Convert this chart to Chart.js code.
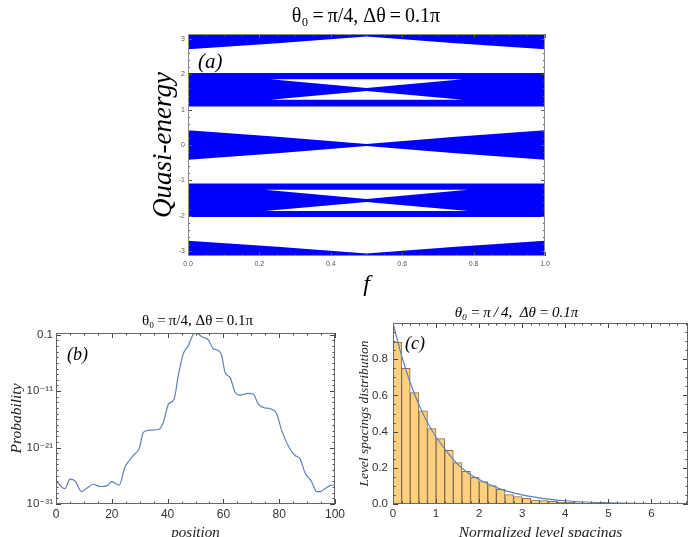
<!DOCTYPE html>
<html>
<head>
<meta charset="utf-8">
<script src="https://cdn.jsdelivr.net/npm/chart.js@4"></script>
<style>
html, body { margin: 0; padding: 0; background: #fff; width: 694px; height: 537px; overflow: hidden; }
.box { position: absolute; }
</style>
</head>
<body>
<div class="box" style="left:140px;top:0px"><canvas id="chartA" width="452" height="300"></canvas></div>
<div class="box" style="left:0px;top:300px"><canvas id="chartB" width="395" height="245"></canvas></div>
<div class="box" style="left:345px;top:300px"><canvas id="chartC" width="343" height="245"></canvas></div>
<script>
// ---- panel (a): quasi-energy bands vs f ----
var fEdge = [0, 0.25, 0.5, 0.75, 1];
var topBandLow = [2.71, 2.88, 3.07, 2.88, 2.71];
var midBandHigh = [0.42, 0.23, 0.03, 0.23, 0.42];
var midBandLow = [-0.42, -0.23, -0.03, -0.23, -0.42];
var botBandHigh = [-2.71, -2.88, -3.07, -2.88, -2.71];
var fFull = [0, 1];
var upperBand = [2.04, 1.09];   // high, low
var lowerBand = [-1.09, -2.04];
// white gaps inside the two side bands
var fGapUp = [0.23, 0.5, 0.77];
var gapUp1 = [[1.86, 1.86, 1.86], [1.86, 1.61, 1.86]];
var gapUp2 = [[1.28, 1.53, 1.28], [1.28, 1.28, 1.28]];
var fGapDn = [0.215, 0.5, 0.785];
var gapDn1 = [[-1.27, -1.27, -1.27], [-1.27, -1.53, -1.27]];
var gapDn2 = [[-1.87, -1.61, -1.87], [-1.87, -1.87, -1.87]];
var fTicks = [0, 0.2, 0.4, 0.6, 0.8, 1];
var fTickLabels = ['0.0', '0.2', '0.4', '0.6', '0.8', '1.0'];
var qTicks = [-3, -2, -1, 0, 1, 2, 3];
var qTickLabels = ['-3', '-2', '-1', '0', '1', '2', '3'];

// ---- panel (b): probability vs position ----
var position = [0, 3.2, 5.0, 6.8, 9.2, 11.0, 13.4, 15.8, 18.2, 20.0, 21.8, 22.7, 24.7, 27.7, 29.9,
  31.3, 33.7, 36.7, 38.5, 40.3, 42.3, 43.8, 45.6, 47.4, 49.2, 49.8, 52.8, 54.6, 56.4, 58.2,
  59.4, 60.6, 62.4, 64.2, 65.9, 68.9, 70.7, 72.5, 74.3, 77.3, 79.1, 80.9, 83.9, 85.7, 87.5,
  89.2, 91.6, 93.4, 94.6, 96.4, 98.2, 100];
var probExp = [-26.9, -28.3, -26.6, -26.9, -28.8, -28.2, -27.5, -27.9, -27.8, -27.05, -27.5, -27.6, -24.5, -22.4, -21.1,
  -18.3, -17.9, -17.8, -16.5, -13.3, -12.5, -8.3, -4.4, -2.95, -0.9, -0.7, -1.5, -1.9, -3.5, -3.8,
  -4.7, -7.7, -8.6, -11.2, -11.7, -11.4, -11.5, -13.3, -13.9, -14.2, -15.0, -18.0, -21.3, -22.4, -23.0,
  -25.4, -27.05, -28.8, -28.8, -28.3, -27.75, -27.6];
var posTicks = [0, 20, 40, 60, 80, 100];
var probTicks = [1e-1, 1e-11, 1e-21, 1e-31];
var probTickLabels = ['0.1', '10\u207B\u00B9\u00B9', '10\u207B\u00B2\u00B9', '10\u207B\u00B3\u00B9'];

// ---- panel (c): level spacing histogram ----
var binCenters = [0.1, 0.3, 0.5, 0.7, 0.9, 1.1, 1.3, 1.5, 1.7, 1.9, 2.1, 2.3, 2.5, 2.7, 2.9, 3.1,
  3.3, 3.5, 3.7, 3.9, 4.1, 4.3, 4.5, 4.7, 4.9, 5.1, 5.3, 5.5, 5.7, 5.9];
var binHeights = [0.893, 0.75, 0.615, 0.515, 0.417, 0.361, 0.296, 0.229, 0.18, 0.148, 0.124, 0.102, 0.081, 0.052, 0.041, 0.031,
  0.021, 0.019, 0.015, 0.011, 0.009, 0.007, 0.004, 0.004, 0.003, 0.002, 0.002, 0.001, 0.001, 0.001];
var curveS = [0, 0.2, 0.4, 0.6, 0.8, 1.0, 1.25, 1.5, 1.75, 2.0, 2.5, 3.0, 3.5, 4.0, 4.5, 5.0, 5.5, 6.0, 6.85];
var curveP = [1.0, 0.82, 0.67, 0.55, 0.45, 0.37, 0.29, 0.22, 0.17, 0.135, 0.082, 0.05, 0.03, 0.018, 0.011, 0.007, 0.004, 0.0025, 0.001];
var sTicks = [0, 1, 2, 3, 4, 5, 6];
var pdfTicks = [0, 0.2, 0.4, 0.6, 0.8];
var pdfTickLabels = ['0.0', '0.2', '0.4', '0.6', '0.8'];

var serif = "'Liberation Serif', 'DejaVu Serif', serif";
var sans = "'Liberation Sans', 'DejaVu Sans', sans-serif";
var thin = '\u2009', en = '\u2002';
Chart.defaults.font.family = sans;
Chart.defaults.color = '#333';
Chart.defaults.animation = false;
Chart.defaults.plugins.legend.display = false;
Chart.defaults.plugins.tooltip.enabled = false;

function pts(xs, ys) {
  return xs.map(function (x, i) { return {x: x, y: ys[i]}; });
}
function steps(a, b, s) {
  var out = [];
  for (var v = a; v <= b + 1e-9; v += s) out.push(+v.toFixed(6));
  return out;
}
function region(xs, hi, lo, color, order) {
  var base = {borderColor: 'rgba(0,0,0,0)', borderWidth: 0, pointRadius: 0, order: order};
  return [
    Object.assign({data: pts(xs, hi), fill: '+1', backgroundColor: color}, base),
    Object.assign({data: pts(xs, lo), fill: false}, base)
  ];
}
function fixedTicks(values) {
  return function (scale) { scale.ticks = values.map(function (v) { return {value: v}; }); };
}
function fixBox(size) {
  return function (scale) {
    if (scale.isHorizontal()) scale.height = size; else scale.width = size;
    scale.paddingLeft = scale.paddingRight = scale.paddingTop = scale.paddingBottom = 0;
  };
}
// empty right-hand axis, only used to reserve room so the title centres like the original
function spacer(size) {
  return {type: 'linear', position: 'right', display: true, grid: {display: false, drawTicks: false},
    border: {display: false}, ticks: {display: false}, afterFit: fixBox(size)};
}
var noGrid = {display: false, drawTicks: false};

// frame with inward ticks on all four sides, plus panel letter
var frameTicks = {
  id: 'frameTicks',
  afterDatasetsDraw: function (chart, args, o) {
    var ctx = chart.ctx, a = chart.chartArea;
    var xs = chart.scales.x, ys = chart.scales.y;
    ctx.save();
    ctx.strokeStyle = o.tickColor;
    ctx.lineWidth = 1;
    ctx.beginPath();
    function addX(vals, len) {
      vals.forEach(function (v) {
        var p = Math.round(xs.getPixelForValue(v)) + 0.5;
        if (p < a.left - 0.5 || p > a.right + 0.5) return;
        ctx.moveTo(p, a.bottom); ctx.lineTo(p, a.bottom - len);
        ctx.moveTo(p, a.top); ctx.lineTo(p, a.top + len);
      });
    }
    function addY(vals, len) {
      vals.forEach(function (v) {
        var p = Math.round(ys.getPixelForValue(v)) + 0.5;
        if (p < a.top - 0.5 || p > a.bottom + 0.5) return;
        ctx.moveTo(a.left, p); ctx.lineTo(a.left + len, p);
        ctx.moveTo(a.right, p); ctx.lineTo(a.right - len, p);
      });
    }
    addX(o.xMajor, o.major); addX(o.xMinor, o.minor);
    addY(o.yMajor, o.major); addY(o.yMinor, o.minor);
    ctx.stroke();
    ctx.strokeStyle = o.frameColor;
    ctx.strokeRect(Math.round(a.left) + 0.5, Math.round(a.top) + 0.5,
      Math.round(a.right - a.left) - 1, Math.round(a.bottom - a.top) - 1);
    ctx.fillStyle = '#000';
    ctx.font = o.labelFont;
    ctx.textBaseline = 'alphabetic';
    ctx.fillText(o.label, a.left + o.labelDx, a.top + o.labelDy);
    ctx.restore();
  }
};

// ---------- chart (a) ----------
var blue = '#0000ff';
var white = '#ffffff';
var piTop = [Math.PI, Math.PI, Math.PI, Math.PI, Math.PI];
var piBot = [-Math.PI, -Math.PI, -Math.PI, -Math.PI, -Math.PI];
var bandSets = [].concat(
  region(fEdge, piTop, topBandLow, blue, 2),
  region(fFull, [upperBand[0], upperBand[0]], [upperBand[1], upperBand[1]], blue, 2),
  region(fEdge, midBandHigh, midBandLow, blue, 2),
  region(fFull, [lowerBand[0], lowerBand[0]], [lowerBand[1], lowerBand[1]], blue, 2),
  region(fEdge, botBandHigh, piBot, blue, 2),
  region(fGapUp, gapUp1[0], gapUp1[1], white, 1),
  region(fGapUp, gapUp2[0], gapUp2[1], white, 1),
  region(fGapDn, gapDn1[0], gapDn1[1], white, 1),
  region(fGapDn, gapDn2[0], gapDn2[1], white, 1)
);

new Chart(document.getElementById('chartA'), {
  type: 'line',
  data: {datasets: bandSets},
  options: {
    responsive: false,
    plugins: {
      title: {display: true, text: '\u03B8\u2080' + thin + '=' + thin + '\u03C0/4, \u0394\u03B8' + thin + '=' + thin + '0.1\u03C0',
        color: '#000', font: {family: serif, size: 20, weight: 'normal'}, padding: {top: 5, bottom: 5}},
      frameTicks: {tickColor: '#555', frameColor: '#8a8a8a', major: 4, minor: 2,
        xMajor: fTicks, xMinor: steps(0, 1, 0.05), yMajor: qTicks, yMinor: steps(-3, 3, 0.2),
        label: '(a)', labelFont: 'italic 21px ' + serif, labelDx: 10, labelDy: 34}
    },
    scales: {
      x: {type: 'linear', min: 0, max: 1, grid: noGrid, border: {display: false},
        afterBuildTicks: fixedTicks(fTicks), afterFit: fixBox(44),
        ticks: {autoSkip: false, maxRotation: 0, padding: 4, color: '#555', font: {size: 7},
          callback: function (v, i) { return fTickLabels[i]; }},
        title: {display: true, text: 'f', color: '#000', font: {family: serif, style: 'italic', size: 24},
          padding: {top: 0, bottom: 1}}},
      y: {type: 'linear', min: -Math.PI, max: Math.PI, grid: noGrid, border: {display: false},
        afterBuildTicks: fixedTicks(qTicks), afterFit: fixBox(48),
        ticks: {autoSkip: false, padding: 3, color: '#555', font: {size: 7},
          callback: function (v, i) { return qTickLabels[i]; }},
        title: {display: true, text: 'Quasi-energy', color: '#000', font: {family: serif, style: 'italic', size: 27},
          padding: {top: 8, bottom: 0}}},
      yR: spacer(47)
    }
  },
  plugins: [frameTicks]
});

// ---------- chart (b) ----------
new Chart(document.getElementById('chartB'), {
  type: 'line',
  data: {datasets: [{
    data: pts(position, probExp.map(function (e) { return Math.pow(10, e); })),
    borderColor: '#5e81b5', borderWidth: 1.2, pointRadius: 0, fill: false,
    cubicInterpolationMode: 'monotone'
  }]},
  options: {
    responsive: false,
    plugins: {
      title: {display: true, text: '\u03B8\u2080' + thin + '=' + thin + '\u03C0/4, \u0394\u03B8' + thin + '=' + thin + '0.1\u03C0',
        color: '#000', font: {family: serif, size: 15, weight: 'normal'}, padding: {top: 12, bottom: 3}},
      frameTicks: {tickColor: '#444', frameColor: '#666', major: 5, minor: 2.5,
        xMajor: posTicks, xMinor: steps(0, 100, 5), yMajor: probTicks,
        yMinor: steps(-31, -1, 1).map(function (e) { return Math.pow(10, e); }),
        label: '(b)', labelFont: 'italic 18px ' + serif, labelDx: 11, labelDy: 27}
    },
    scales: {
      x: {type: 'linear', min: 0, max: 100, grid: noGrid, border: {display: false},
        afterBuildTicks: fixedTicks(posTicks), afterFit: fixBox(41),
        ticks: {autoSkip: false, maxRotation: 0, padding: 3, font: {size: 12}},
        title: {display: true, text: 'position', color: '#222', font: {family: serif, style: 'italic', size: 15},
          padding: {top: 0, bottom: 3}}},
      y: {type: 'logarithmic', min: 1e-31, max: 0.2, grid: noGrid, border: {display: false},
        afterBuildTicks: fixedTicks(probTicks), afterFit: fixBox(56),
        ticks: {autoSkip: false, padding: 3, font: {size: 11.5},
          callback: function (v, i) { return probTickLabels[i]; }},
        title: {display: true, text: 'Probability', color: '#222', font: {family: serif, style: 'italic', size: 15.5},
          padding: {top: 8, bottom: 0}}},
      yR: spacer(60)
    }
  },
  plugins: [frameTicks]
});

// ---------- chart (c) ----------
new Chart(document.getElementById('chartC'), {
  type: 'bar',
  data: {datasets: [
    {type: 'line', data: pts(curveS, curveP), borderColor: '#5e81b5', borderWidth: 1.2, pointRadius: 0,
      fill: false, cubicInterpolationMode: 'monotone', order: 1},
    {type: 'bar', data: pts(binCenters, binHeights), backgroundColor: 'rgb(252,208,125)',
      borderColor: 'rgba(110,90,60,0.85)', borderWidth: 1, barPercentage: 1, categoryPercentage: 1, order: 2}
  ]},
  options: {
    responsive: false,
    plugins: {
      title: {display: true,
        text: '\u03B8\u2080' + thin + '=' + thin + '\u03C0' + thin + '/' + thin + '4,' + en + '\u0394\u03B8' + thin + '=' + thin + '0.1\u03C0',
        color: '#000', font: {family: serif, style: 'italic', size: 15, weight: 'normal'}, padding: {top: 4, bottom: 1}},
      frameTicks: {tickColor: '#444', frameColor: '#666', major: 5, minor: 2.5,
        xMajor: sTicks, xMinor: steps(0, 6.8, 0.2), yMajor: pdfTicks, yMinor: steps(0, 1, 0.05),
        label: '(c)', labelFont: 'italic 18px ' + serif, labelDx: 12, labelDy: 26}
    },
    scales: {
      x: {type: 'linear', min: 0, max: 6.85, offset: false, grid: {display: false, drawTicks: false, offset: false},
        border: {display: false}, afterBuildTicks: fixedTicks(sTicks), afterFit: fixBox(41),
        ticks: {autoSkip: false, maxRotation: 0, padding: 3, font: {size: 11.5}},
        title: {display: true, text: 'Normalized level spacings', color: '#222',
          font: {family: serif, style: 'italic', size: 15.5}, padding: {top: 0, bottom: 3}}},
      y: {type: 'linear', min: 0, max: 1.0, grid: noGrid, border: {display: false},
        afterBuildTicks: fixedTicks(pdfTicks), afterFit: fixBox(48),
        ticks: {autoSkip: false, padding: 5, font: {size: 11.5},
          callback: function (v, i) { return pdfTickLabels[i]; }},
        title: {display: true, text: 'Level spacings distribution', color: '#222',
          font: {family: serif, style: 'italic', size: 13.5}, padding: {top: 11, bottom: 0}}}
    }
  },
  plugins: [frameTicks]
});
</script>
</body>
</html>
